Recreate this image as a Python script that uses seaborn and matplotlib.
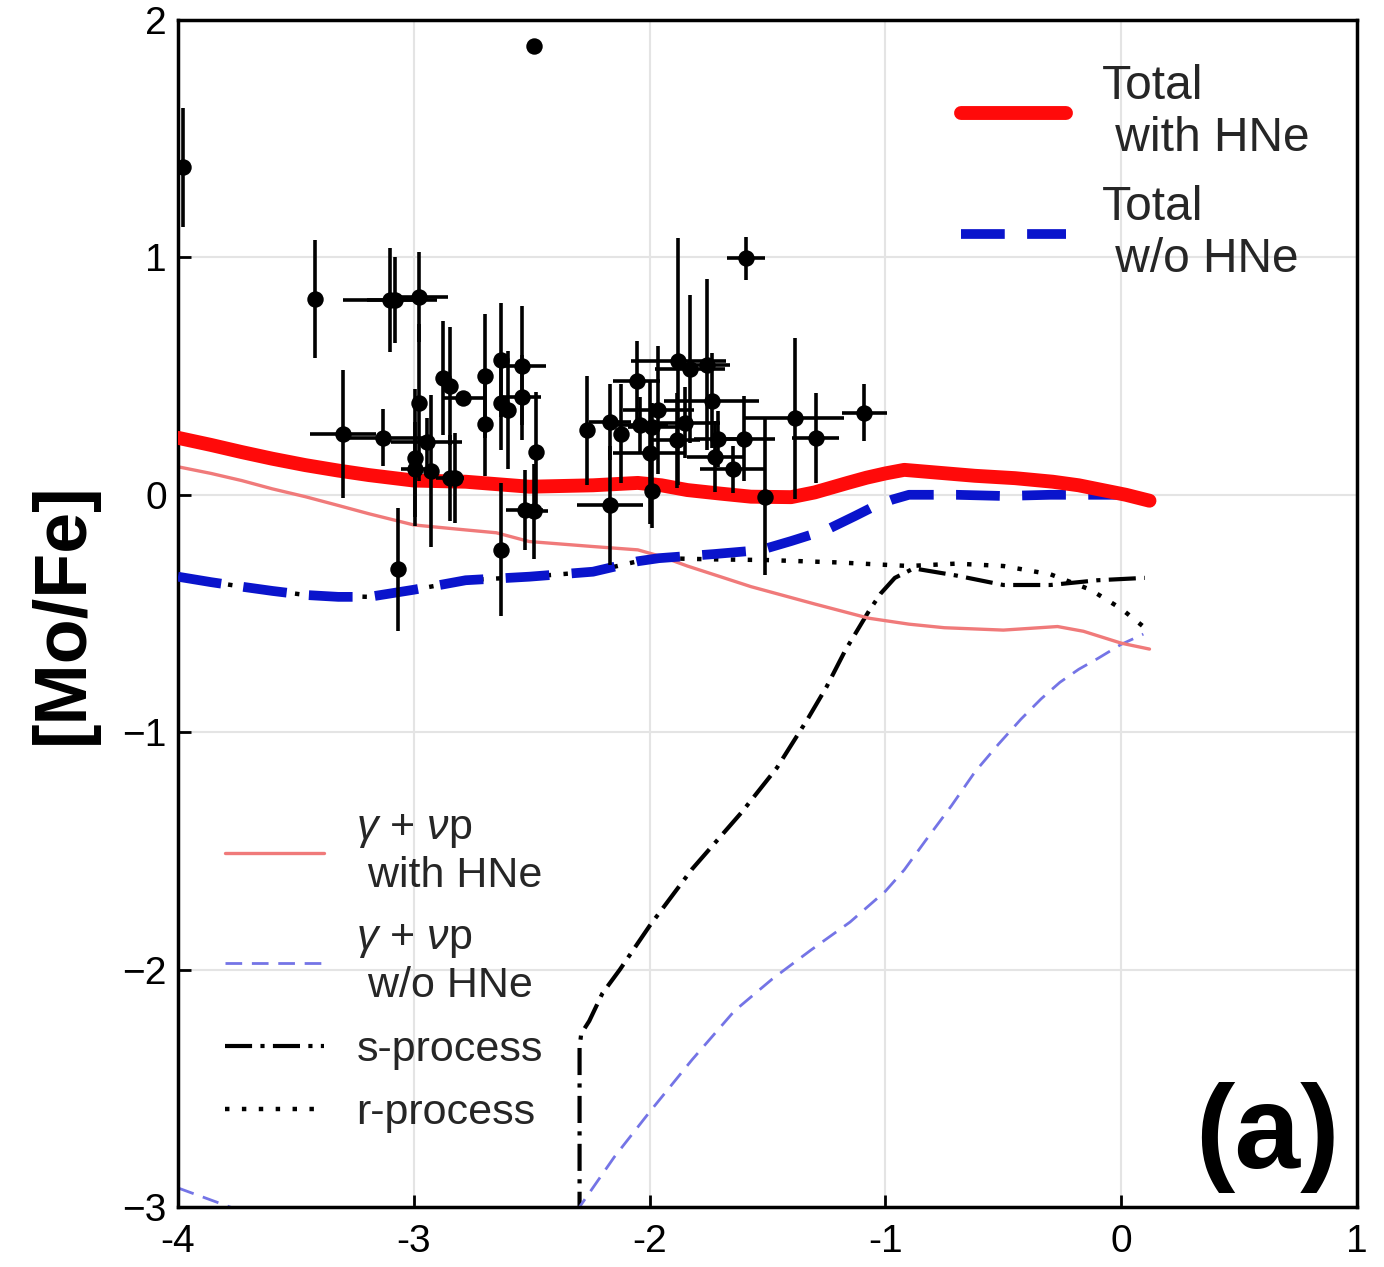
import numpy as np
import pandas as pd
import matplotlib
matplotlib.use('Agg')
import matplotlib.pyplot as plt
import seaborn as sns

# ---- model curves ([Fe/H] vs [Mo/Fe]) ----
total_hne_x = [-4.0, -3.86, -3.73, -3.6, -3.46, -3.32, -3.19, -3.0, -2.78, -2.51, -2.24, -2.05,
               -1.95, -1.84, -1.7, -1.57, -1.40, -1.3, -1.16, -1.08, -1.0, -0.92, -0.8, -0.62,
               -0.45, -0.29, -0.18, -0.08, 0.02, 0.12]
total_hne_y = [0.24, 0.21, 0.18, 0.152, 0.125, 0.102, 0.083, 0.06, 0.055, 0.034, 0.04, 0.05,
               0.04, 0.02, 0.005, -0.008, -0.01, 0.01, 0.05, 0.072, 0.09, 0.105, 0.095, 0.08,
               0.07, 0.055, 0.04, 0.02, 0.0, -0.025]

total_nohne_x = [-4.0, -3.86, -3.73, -3.6, -3.46, -3.32, -3.19, -3.0, -2.78, -2.51, -2.24, -2.05,
                 -1.96, -1.73, -1.53, -1.4, -1.25, -1.13, -1.05, -0.97, -0.9, -0.7, -0.5,
                 -0.3, -0.1, 0.1]
total_nohne_y = [-0.345, -0.368, -0.387, -0.405, -0.422, -0.43, -0.43, -0.40, -0.36, -0.345,
                 -0.324, -0.28, -0.267, -0.25, -0.233, -0.195, -0.148, -0.09, -0.05, -0.02,
                 0.0, 0.0, -0.005, 0.0, 0.0, 0.0]

gnp_hne_x = [-4.0, -3.86, -3.73, -3.6, -3.46, -3.32, -3.19, -3.0, -2.78, -2.65, -2.51, -2.24,
             -2.05, -1.95, -1.84, -1.7, -1.57, -1.3, -1.07, -0.9, -0.75, -0.5, -0.27, -0.16,
             -0.08, 0.0, 0.12]
gnp_hne_y = [0.118, 0.09, 0.06, 0.025, -0.008, -0.045, -0.08, -0.127, -0.148, -0.16, -0.197,
             -0.218, -0.232, -0.26, -0.30, -0.345, -0.387, -0.46, -0.52, -0.545, -0.56, -0.57,
             -0.555, -0.575, -0.60, -0.625, -0.65]

gnp_nohne_x = [-4.0, -3.78, -3.5, -3.0, -2.6, -2.297, -2.15, -2.0, -1.82, -1.64, -1.48, -1.316,
               -1.15, -1.0, -0.92, -0.83, -0.72, -0.62, -0.52, -0.425, -0.34, -0.26, -0.18,
               -0.10, 0.0, 0.094]
gnp_nohne_y = [-2.92, -3.0, -3.1, -3.25, -3.2, -3.0, -2.79, -2.60, -2.38, -2.174, -2.04, -1.918,
               -1.8, -1.67, -1.58, -1.457, -1.31, -1.167, -1.05, -0.945, -0.86, -0.79, -0.735,
               -0.69, -0.63, -0.587]

s_proc_x = [-2.297, -2.297, -2.29, -2.256, -2.2, -2.126, -2.0, -1.82, -1.61, -1.46, -1.33, -1.25,
            -1.17, -1.07, -1.02, -0.96, -0.88, -0.7, -0.5, -0.3, -0.1, 0.1]
s_proc_y = [-3.05, -2.33, -2.27, -2.217, -2.1, -2.0, -1.816, -1.577, -1.338, -1.15, -0.945, -0.81,
            -0.655, -0.49, -0.416, -0.35, -0.31, -0.34, -0.38, -0.38, -0.36, -0.35]

r_proc_x = [-4.0, -3.73, -3.46, -3.19, -3.0, -2.78, -2.51, -2.24, -2.05, -1.96, -1.73, -1.5, -1.2,
            -1.0, -0.9, -0.7, -0.5, -0.3, -0.13, 0.0, 0.1]
r_proc_y = [-0.345, -0.387, -0.422, -0.43, -0.40, -0.36, -0.345, -0.324, -0.28, -0.267, -0.272,
            -0.275, -0.285, -0.295, -0.30, -0.29, -0.30, -0.335, -0.40, -0.48, -0.56]

# ---- observed stars ----
obs_x = [-3.98, -2.49, -3.42, -3.10, -3.08, -2.977, -2.977, -3.30, -3.13, -2.995, -2.995, -2.945,
         -2.925, -2.875, -2.846, -2.79, -2.846, -2.825, -3.066, -2.70, -2.70, -2.63, -2.63, -2.60,
         -2.54, -2.54, -2.48, -2.53, -2.49, -2.63, -2.267, -2.168, -2.168, -2.12, -2.055, -2.04,
         -1.99, -2.0, -1.99, -1.963, -1.878, -1.829, -1.758, -1.85, -1.885, -1.737, -1.71, -1.723,
         -1.645, -1.60, -1.51, -1.59, -1.385, -1.295, -1.09]
obs_y = [1.38, 1.89, 0.825, 0.82, 0.82, 0.833, 0.388, 0.256, 0.24, 0.157, 0.107, 0.223,
         0.10, 0.49, 0.458, 0.408, 0.07, 0.07, -0.314, 0.50, 0.30, 0.568, 0.387, 0.357,
         0.544, 0.41, 0.182, -0.064, -0.07, -0.232, 0.272, 0.306, -0.045, 0.258, 0.478, 0.294,
         0.287, 0.175, 0.018, 0.357, 0.562, 0.53, 0.547, 0.304, 0.23, 0.396, 0.235, 0.16,
         0.107, 0.236, -0.008, 0.996, 0.322, 0.238, 0.345]
obs_xerr = [0, 0, 0, 0.20, 0.12, 0.12, 0, 0.14, 0.17, 0, 0.06, 0.15,
            0, 0, 0, 0.09, 0.06, 0, 0, 0, 0, 0, 0, 0,
            0.10, 0.08, 0, 0.08, 0.06, 0, 0, 0.09, 0.14, 0, 0.10, 0.12,
            0.10, 0.155, 0, 0.15, 0.20, 0.15, 0.10, 0.15, 0.10, 0.20, 0.10, 0.12,
            0.14, 0.13, 0, 0.08, 0.21, 0.10, 0.095]
obs_yerr = [0.25, 0, 0.25, 0.22, 0.18, 0.19, 0.33, 0.27, 0.12, 0.29, 0.20, 0.10,
            0.32, 0.24, 0.25, 0, 0.18, 0.19, 0.26, 0.26, 0.22, 0.24, 0.20, 0.25,
            0.25, 0.18, 0.25, 0.17, 0.20, 0.28, 0.23, 0.16, 0.25, 0.21, 0.17, 0.12,
            0.10, 0.30, 0.16, 0.27, 0.52, 0.31, 0.36, 0.15, 0.20, 0.20, 0.12, 0.15,
            0.10, 0.18, 0.33, 0.09, 0.34, 0.19, 0.12]

x_ticks = [-4, -3, -2, -1, 0, 1]
x_ticklabels = ['-4', '-3', '-2', '-1', '0', '1']
y_ticks = [2, 1, 0, -1, -2, -3]
y_ticklabels = ['2', '1', '0', '\u22121', '\u22122', '\u22123']

sns.set_theme(style='whitegrid')
plt.rcParams['font.family'] = ['Liberation Sans', 'DejaVu Sans']
plt.rcParams['mathtext.fontset'] = 'custom'
plt.rcParams['mathtext.rm'] = 'Liberation Sans'
plt.rcParams['mathtext.it'] = 'Liberation Sans:italic'

fig, ax = plt.subplots(figsize=(13.84, 12.67), dpi=100)
fig.subplots_adjust(left=0.1286, right=0.9805, bottom=0.0474, top=0.9842)
ax.set_facecolor('white')

sns.lineplot(x=r_proc_x, y=r_proc_y, estimator=None, sort=False, color='black',
             linewidth=3.2, linestyle=(0, (1, 2.8)), ax=ax, zorder=2)
sns.lineplot(x=s_proc_x, y=s_proc_y, estimator=None, sort=False, color='black',
             linewidth=3, linestyle=(0, (6.5, 2, 1, 2)), ax=ax, zorder=2)
sns.lineplot(x=gnp_nohne_x, y=gnp_nohne_y, estimator=None, sort=False, color='#7474e6',
             linewidth=2, linestyle=(0, (6, 3.5)), ax=ax, zorder=2)
sns.lineplot(x=gnp_hne_x, y=gnp_hne_y, estimator=None, sort=False, color='#f07a7a',
             linewidth=2.4, ax=ax, zorder=2)
sns.lineplot(x=total_nohne_x, y=total_nohne_y, estimator=None, sort=False, color='#0a14cc',
             linewidth=7, linestyle=(0, (4.5, 2.3)), ax=ax, zorder=3)
sns.lineplot(x=total_hne_x, y=total_hne_y, estimator=None, sort=False, color='#ff0a0a',
             linewidth=10, ax=ax, zorder=3)

lines = ax.get_lines()
h_r, h_s, h_gn, h_gh, h_tn, h_th = lines[:6]

ax.errorbar(obs_x, obs_y, xerr=obs_xerr, yerr=obs_yerr, fmt='none', ecolor='black',
            elinewidth=2.6, capsize=0, zorder=5)
sns.scatterplot(x=obs_x, y=obs_y, color='black', s=140, linewidth=0, ax=ax, zorder=6)

ax.set_xlim(-4, 1)
ax.set_ylim(-3, 2)
ax.set_xticks(x_ticks)
ax.set_xticklabels(x_ticklabels)
ax.set_yticks(y_ticks)
ax.set_yticklabels(y_ticklabels)
ax.tick_params(direction='in', length=9, width=2, labelsize=28, colors='black',
               bottom=True, left=True, top=False, right=False)
ax.tick_params(axis='x', pad=12)
ax.tick_params(axis='y', pad=8)
ax.grid(True, color='#e4e4e4', linewidth=1.5)
for sp in ax.spines.values():
    sp.set_color('black')
    sp.set_linewidth(2.5)

ax.set_xlabel('')
ax.set_ylabel('[Mo/Fe]', fontsize=53, fontweight='bold', color='black')
ax.yaxis.set_label_coords(-0.068, 0.5)

leg1 = ax.legend(handles=[h_th, h_tn], labels=['Total\n with HNe', 'Total\n w/o HNe'],
                 loc='upper right', bbox_to_anchor=(0.96, 0.963), frameon=False,
                 fontsize=34.5, handlelength=2.2, handletextpad=0.75, labelspacing=0.5,
                 borderpad=0, borderaxespad=0)
ax.add_artist(leg1)
ax.legend(handles=[h_gh, h_gn, h_s, h_r],
          labels=['$\\gamma$ + $\\nu$p\n with HNe', '$\\gamma$ + $\\nu$p\n w/o HNe',
                  's-process', 'r-process'],
          loc='lower left', bbox_to_anchor=(0.04, 0.062), frameon=False,
          fontsize=31, handlelength=2.3, handletextpad=0.75, labelspacing=0.55,
          borderpad=0, borderaxespad=0)

ax.text(0.985, 0.012, '(a)', transform=ax.transAxes, ha='right', va='bottom',
        fontsize=85, fontweight='bold', color='black')

fig.savefig('out.png', dpi=100)
